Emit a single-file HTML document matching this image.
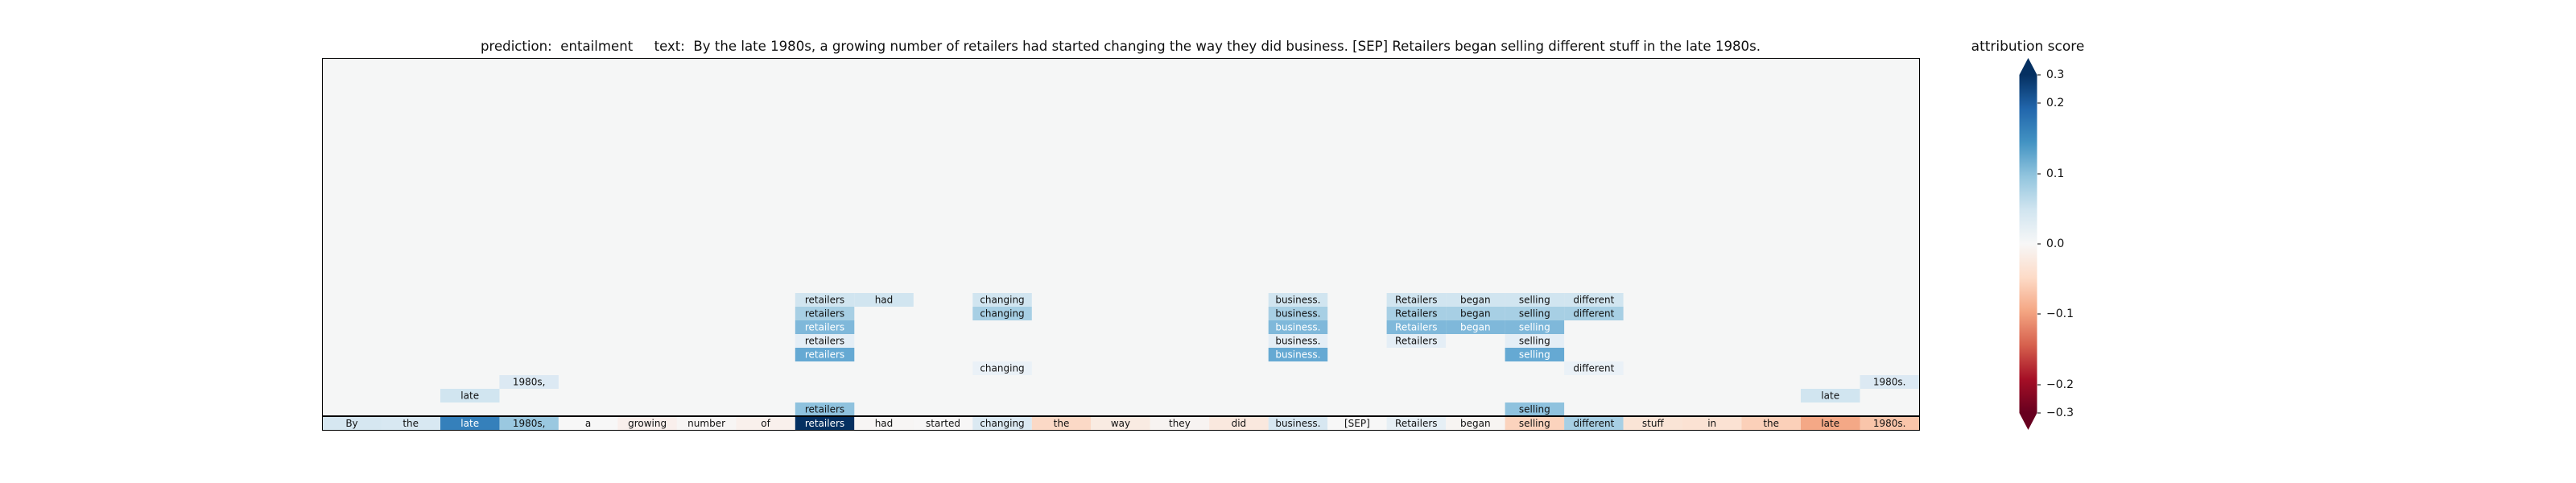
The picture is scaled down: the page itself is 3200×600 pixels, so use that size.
<!DOCTYPE html>
<html><head><meta charset="utf-8"><style>
html,body{margin:0;padding:0;background:#fff;}
svg{display:block;}
text{font-family:"DejaVu Sans","Liberation Sans",sans-serif;white-space:pre;}
.t{font-size:12px;text-anchor:middle;dominant-baseline:central;fill:#111;}
.w{fill:#fff;}
</style></head><body>
<svg width="3200" height="600" viewBox="0 0 3200 600" xmlns="http://www.w3.org/2000/svg" xml:space="preserve">
<defs>
<linearGradient id="cb" x1="0" y1="1" x2="0" y2="0">
<stop offset="0" stop-color="#67001f"/>
<stop offset="0.1" stop-color="#a50f26"/>
<stop offset="0.2" stop-color="#d6604d"/>
<stop offset="0.3" stop-color="#f4a582"/>
<stop offset="0.4" stop-color="#fddbc7"/>
<stop offset="0.5" stop-color="#f7f7f7"/>
<stop offset="0.6" stop-color="#d1e5f0"/>
<stop offset="0.7" stop-color="#92c5de"/>
<stop offset="0.8" stop-color="#4393c3"/>
<stop offset="0.9" stop-color="#2166ac"/>
<stop offset="1" stop-color="#053061"/>
</linearGradient>
</defs>
<text x="597" y="63" font-size="17" textLength="1590" lengthAdjust="spacingAndGlyphs" fill="#111">prediction:  entailment     text:  By the late 1980s, a growing number of retailers had started changing the way they did business. [SEP] Retailers began selling different stuff in the late 1980s.</text>
<rect x="400.5" y="72.5" width="1984" height="462" fill="#f5f6f6" stroke="#000" stroke-width="1"/>
<g>
<rect x="987.8" y="364" width="73.5" height="17" fill="#d1e5f0"/><text class="t" x="1024.5" y="372.5">retailers</text>
<rect x="1061.3" y="364" width="73.5" height="17" fill="#d1e5f0"/><text class="t" x="1098" y="372.5">had</text>
<rect x="1208.3" y="364" width="73.5" height="17" fill="#d1e5f0"/><text class="t" x="1245" y="372.5">changing</text>
<rect x="1575.7" y="364" width="73.5" height="17" fill="#d1e5f0"/><text class="t" x="1612.4" y="372.5">business.</text>
<rect x="1722.6" y="364" width="73.5" height="17" fill="#d1e5f0"/><text class="t" x="1759.3" y="372.5">Retailers</text>
<rect x="1796.1" y="364" width="73.5" height="17" fill="#d1e5f0"/><text class="t" x="1832.8" y="372.5">began</text>
<rect x="1869.6" y="364" width="73.5" height="17" fill="#d1e5f0"/><text class="t" x="1906.3" y="372.5">selling</text>
<rect x="1943.1" y="364" width="73.5" height="17" fill="#d1e5f0"/><text class="t" x="1979.8" y="372.5">different</text>
<rect x="987.8" y="381" width="73.5" height="17" fill="#a7cfe4"/><text class="t" x="1024.5" y="389.5">retailers</text>
<rect x="1208.3" y="381" width="73.5" height="17" fill="#a7cfe4"/><text class="t" x="1245" y="389.5">changing</text>
<rect x="1575.7" y="381" width="73.5" height="17" fill="#a7cfe4"/><text class="t" x="1612.4" y="389.5">business.</text>
<rect x="1722.6" y="381" width="73.5" height="17" fill="#a7cfe4"/><text class="t" x="1759.3" y="389.5">Retailers</text>
<rect x="1796.1" y="381" width="73.5" height="17" fill="#a7cfe4"/><text class="t" x="1832.8" y="389.5">began</text>
<rect x="1869.6" y="381" width="73.5" height="17" fill="#a7cfe4"/><text class="t" x="1906.3" y="389.5">selling</text>
<rect x="1943.1" y="381" width="73.5" height="17" fill="#a7cfe4"/><text class="t" x="1979.8" y="389.5">different</text>
<rect x="987.8" y="398" width="73.5" height="17" fill="#7fb8da"/><text class="t w" x="1024.5" y="406.5">retailers</text>
<rect x="1575.7" y="398" width="73.5" height="17" fill="#7fb8da"/><text class="t w" x="1612.4" y="406.5">business.</text>
<rect x="1722.6" y="398" width="73.5" height="17" fill="#7fb8da"/><text class="t w" x="1759.3" y="406.5">Retailers</text>
<rect x="1796.1" y="398" width="73.5" height="17" fill="#7fb8da"/><text class="t w" x="1832.8" y="406.5">began</text>
<rect x="1869.6" y="398" width="73.5" height="17" fill="#7fb8da"/><text class="t w" x="1906.3" y="406.5">selling</text>
<rect x="987.8" y="415" width="73.5" height="17" fill="#e4eef6"/><text class="t" x="1024.5" y="423.5">retailers</text>
<rect x="1575.7" y="415" width="73.5" height="17" fill="#e4eef6"/><text class="t" x="1612.4" y="423.5">business.</text>
<rect x="1722.6" y="415" width="73.5" height="17" fill="#e4eef6"/><text class="t" x="1759.3" y="423.5">Retailers</text>
<rect x="1869.6" y="415" width="73.5" height="17" fill="#e4eef6"/><text class="t" x="1906.3" y="423.5">selling</text>
<rect x="987.8" y="432" width="73.5" height="17" fill="#65a9d3"/><text class="t w" x="1024.5" y="440.5">retailers</text>
<rect x="1575.7" y="432" width="73.5" height="17" fill="#65a9d3"/><text class="t w" x="1612.4" y="440.5">business.</text>
<rect x="1869.6" y="432" width="73.5" height="17" fill="#65a9d3"/><text class="t w" x="1906.3" y="440.5">selling</text>
<rect x="1208.3" y="449" width="73.5" height="17" fill="#eaf1f7"/><text class="t" x="1245" y="457.5">changing</text>
<rect x="1943.1" y="449" width="73.5" height="17" fill="#eaf1f7"/><text class="t" x="1979.8" y="457.5">different</text>
<rect x="620.4" y="466" width="73.5" height="17" fill="#dce9f3"/><text class="t" x="657.2" y="474.5">1980s,</text>
<rect x="2310.5" y="466" width="73.5" height="17" fill="#dce9f3"/><text class="t" x="2347.2" y="474.5">1980s.</text>
<rect x="547" y="483" width="73.5" height="17" fill="#d1e5f0"/><text class="t" x="583.7" y="491.5">late</text>
<rect x="2237" y="483" width="73.5" height="17" fill="#d1e5f0"/><text class="t" x="2273.7" y="491.5">late</text>
<rect x="987.8" y="500" width="73.5" height="17" fill="#8fc2de"/><text class="t" x="1024.5" y="508.5">retailers</text>
<rect x="1869.6" y="500" width="73.5" height="17" fill="#8fc2de"/><text class="t" x="1906.3" y="508.5">selling</text>
<rect x="400.5" y="518" width="73.5" height="16" fill="#d6e7f1"/><text class="t" x="437" y="526">By</text>
<rect x="473.5" y="518" width="73.5" height="16" fill="#d8e8f2"/><text class="t" x="510.2" y="526">the</text>
<rect x="547" y="518" width="73.5" height="16" fill="#3580bb"/><text class="t w" x="583.7" y="526">late</text>
<rect x="620.4" y="518" width="73.5" height="16" fill="#9ac8e0"/><text class="t" x="657.2" y="526">1980s,</text>
<rect x="693.9" y="518" width="73.5" height="16" fill="#f7f7f7"/><text class="t" x="730.6" y="526">a</text>
<rect x="767.4" y="518" width="73.5" height="16" fill="#f9efec"/><text class="t" x="804.1" y="526">growing</text>
<rect x="840.9" y="518" width="73.5" height="16" fill="#f7f5f4"/><text class="t" x="877.6" y="526">number</text>
<rect x="914.4" y="518" width="73.5" height="16" fill="#f9f0ec"/><text class="t" x="951.1" y="526">of</text>
<rect x="987.8" y="518" width="73.5" height="16" fill="#053061"/><text class="t w" x="1024.5" y="526">retailers</text>
<rect x="1061.3" y="518" width="73.5" height="16" fill="#f7f5f4"/><text class="t" x="1098" y="526">had</text>
<rect x="1134.8" y="518" width="73.5" height="16" fill="#f7f6f6"/><text class="t" x="1171.5" y="526">started</text>
<rect x="1208.3" y="518" width="73.5" height="16" fill="#dbe9f2"/><text class="t" x="1245" y="526">changing</text>
<rect x="1281.8" y="518" width="73.5" height="16" fill="#fbd9c6"/><text class="t" x="1318.5" y="526">the</text>
<rect x="1355.2" y="518" width="73.5" height="16" fill="#f9ebe2"/><text class="t" x="1392" y="526">way</text>
<rect x="1428.7" y="518" width="73.5" height="16" fill="#f7f3f1"/><text class="t" x="1465.4" y="526">they</text>
<rect x="1502.2" y="518" width="73.5" height="16" fill="#fae8de"/><text class="t" x="1538.9" y="526">did</text>
<rect x="1575.7" y="518" width="73.5" height="16" fill="#d7e7f1"/><text class="t" x="1612.4" y="526">business.</text>
<rect x="1649.2" y="518" width="73.5" height="16" fill="#f7f7f7"/><text class="t" x="1685.9" y="526">[SEP]</text>
<rect x="1722.6" y="518" width="73.5" height="16" fill="#e6eff5"/><text class="t" x="1759.3" y="526">Retailers</text>
<rect x="1796.1" y="518" width="73.5" height="16" fill="#f7f4f2"/><text class="t" x="1832.8" y="526">began</text>
<rect x="1869.6" y="518" width="73.5" height="16" fill="#fbd3bd"/><text class="t" x="1906.3" y="526">selling</text>
<rect x="1943.1" y="518" width="73.5" height="16" fill="#a7cfe4"/><text class="t" x="1979.8" y="526">different</text>
<rect x="2016.6" y="518" width="73.5" height="16" fill="#fae4d6"/><text class="t" x="2053.3" y="526">stuff</text>
<rect x="2090" y="518" width="73.5" height="16" fill="#fbe2d3"/><text class="t" x="2126.7" y="526">in</text>
<rect x="2163.5" y="518" width="73.5" height="16" fill="#fbd0b9"/><text class="t" x="2200.2" y="526">the</text>
<rect x="2237" y="518" width="73.5" height="16" fill="#f4a886"/><text class="t" x="2273.7" y="526">late</text>
<rect x="2310.5" y="518" width="73.5" height="16" fill="#f9c5aa"/><text class="t" x="2347.2" y="526">1980s.</text>
</g>
<line x1="400.5" y1="517" x2="2384.5" y2="517" stroke="#000" stroke-width="2"/>
<rect x="400.5" y="72.5" width="1984" height="462" fill="none" stroke="#000" stroke-width="1"/>
<text x="2519" y="63" font-size="17" text-anchor="middle" fill="#111">attribution score</text>
<polygon points="2508.5,93 2519.5,72 2530.5,93" fill="#053061"/>
<polygon points="2508.5,513 2519.5,534 2530.5,513" fill="#67001f"/>
<rect x="2508.5" y="93" width="22" height="420" fill="url(#cb)"/>
<g stroke="#000" stroke-width="1">
<line x1="2531" y1="93" x2="2535" y2="93"/>
<line x1="2531" y1="128" x2="2535" y2="128"/>
<line x1="2531" y1="216" x2="2535" y2="216"/>
<line x1="2531" y1="303" x2="2535" y2="303"/>
<line x1="2531" y1="390" x2="2535" y2="390"/>
<line x1="2531" y1="478" x2="2535" y2="478"/>
<line x1="2531" y1="513" x2="2535" y2="513"/>
</g>
<g font-size="14" fill="#111" dominant-baseline="central">
<text x="2542" y="93">0.3</text>
<text x="2542" y="128">0.2</text>
<text x="2542" y="216">0.1</text>
<text x="2542" y="303">0.0</text>
<text x="2542" y="390">−0.1</text>
<text x="2542" y="478">−0.2</text>
<text x="2542" y="513">−0.3</text>
</g>
</svg>
</body></html>
